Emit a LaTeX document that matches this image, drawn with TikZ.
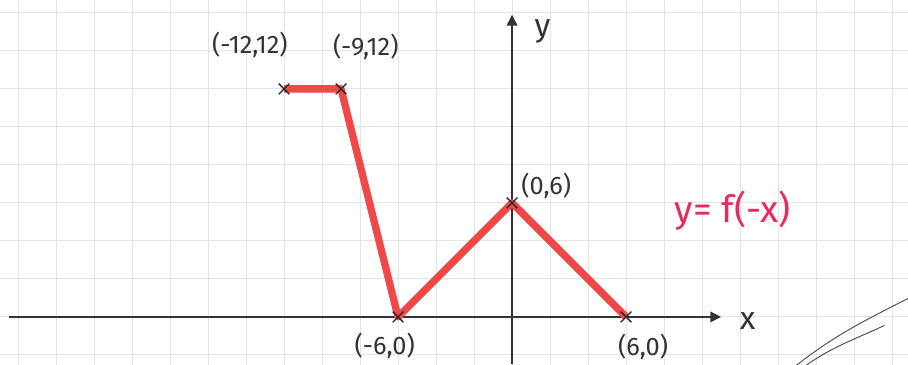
\documentclass[tikz,border=0pt]{standalone}
\usepackage{fontspec}
\setmainfont{Fira Sans}
\usetikzlibrary{shapes.misc,arrows.meta}
\definecolor{penred}{RGB}{240,72,72}
\definecolor{penpink}{RGB}{232,42,98}
\definecolor{paper}{RGB}{228,228,228}
\begin{document}
\begin{tikzpicture}[x=0.5cm, y=0.5cm]
    % Styles
    \tikzstyle{gridline} = [draw=paper, line width=0.8pt]
    \tikzstyle{axis} = [draw=black!80, line width=0.9pt, -{Triangle[length=8pt,width=8pt]}]
    \tikzstyle{graphline} = [draw=penred, line width=5.5pt, line join=round]
    \tikzstyle{pointmark} = [cross out, draw=black!85, line width=1pt, minimum size=7pt, inner sep=0pt]
    \tikzstyle{coordlabel} = [font=\fontsize{19}{22}\selectfont, text=black!80]
    \tikzstyle{penline} = [draw=black!70, line width=0.7pt]

    % === Paper ===
    \useasboundingbox (-26.95,-2.53) rectangle (20.84,16.68);
    \fill[white] (-26.95,-2.53) rectangle (20.84,16.68);
    \draw[gridline] (-26.95,-2.53) grid[step=2] (20.84,16.68);

    % === Axes ===
    \coordinate (xstart) at (-26.5,0);
    \coordinate (xend) at (11,0);
    \coordinate (ystart) at (0,-2.5);
    \coordinate (yend) at (0,15.9);
    \draw[axis] (xstart) -- (xend);
    \draw[axis] (ystart) -- (yend);
    \node[coordlabel, font=\fontsize{24}{26}\selectfont] (xlabel) at (12.4,-0.2) {x};
    \node[coordlabel, font=\fontsize{24}{26}\selectfont] (ylabel) at (1.6,15.0) {y};

    % === Graph ===
    \coordinate (pa) at (-12,12);
    \coordinate (pb) at (-9,12);
    \coordinate (pc) at (-6,0);
    \coordinate (pd) at (0,6);
    \coordinate (pe) at (6,0);
    \draw[graphline] (pa) -- (pb) -- (pc) -- (pd) -- (pe);
    \foreach \p in {pa,pb,pc,pd,pe}
        \node[pointmark] at (\p) {};

    % === Labels ===
    \node[coordlabel] (la) at (-13.8,14.3) {(-12,12)};
    \node[coordlabel] (lb) at (-7.7,14.2) {(-9,12)};
    \node[coordlabel] (lc) at (-6.7,-1.5) {(-6,0)};
    \node[coordlabel] (ld) at (1.8,6.9) {(0,6)};
    \node[coordlabel] (le) at (6.9,-1.6) {(6,0)};
    \node[font=\fontsize{28}{32}\selectfont, text=penpink] (func) at (11.6,5.6) {y= f(-x)};

    % === Stray strokes ===
    \coordinate (sa) at (14.9,-2.6);
    \coordinate (sb) at (20.9,1.0);
    \coordinate (sc) at (15.4,-2.6);
    \coordinate (sd) at (19.6,-0.45);
    \draw[penline] (sa) to[out=38,in=207] (sb);
    \draw[penline] (sc) to[out=35,in=205] (sd);
\end{tikzpicture}
\end{document}
